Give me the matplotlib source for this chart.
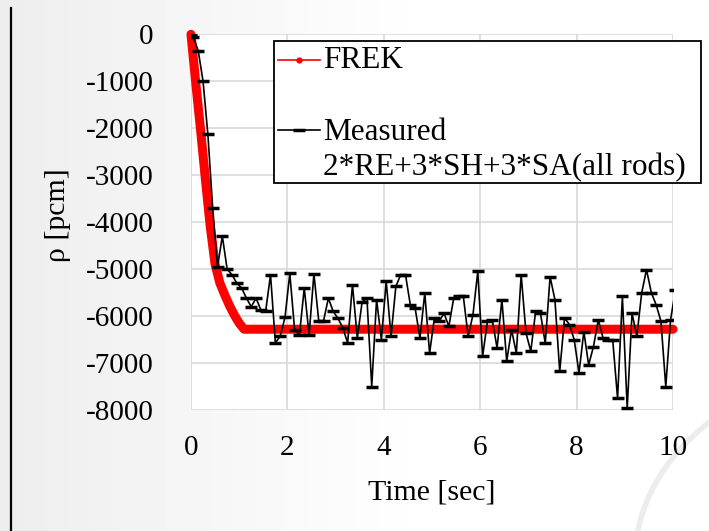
import numpy as np
import matplotlib
matplotlib.use("Agg")
import matplotlib.pyplot as plt
from matplotlib.lines import Line2D
from matplotlib.patches import Rectangle, Circle

plt.rcParams['font.family'] = ['Liberation Serif', 'DejaVu Serif']
plt.rcParams['axes.unicode_minus'] = False

# ---------------- data ----------------
frek_t = [0.0, 0.1, 0.2, 0.3, 0.4, 0.5, 0.6, 0.7, 0.8, 0.9, 1.0, 1.1, 10.0]
frek_rho = [0, -1050, -2050, -3100, -4100, -4900, -5300, -5550, -5780, -5980,
            -6150, -6280, -6280]

meas_t = [0.0] + [round(0.05 + 0.1 * i, 2) for i in range(101)]
meas_rho = [0,
            -65, -350, -1000, -2130, -3700, -4950, -4300, -5000, -5120, -5300,
            -5400, -5620, -5800, -5620, -5870, -5890, -5120, -6570, -6430, -6030,
            -5090, -6300, -6400, -5400, -6400, -5100, -6100, -6100, -5620, -5900,
            -6050, -6250, -6570, -5330, -6470, -5700, -5620, -7500, -5650, -6500,
            -5260, -6430, -5370, -5120, -5120, -5760, -5830, -6470, -5510, -6790,
            -6040, -6110, -5940, -6220, -5620, -5580, -5580, -6430, -5970, -5050,
            -6860, -6110, -6080, -6680, -5650, -6960, -6290, -6790, -5120, -6360,
            -6750, -5900, -5940, -6580, -5160, -5650, -7180, -6040, -6180, -6500,
            -7210, -6330, -7040, -6650, -6080, -6470, -6500, -6520, -7750, -5580,
            -7960, -5940, -6430, -5510, -5010, -5500, -5760, -6110, -7500, -6080,
            -5450]

x_ticks = [0, 2, 4, 6, 8, 10]
y_ticks = [0, -1000, -2000, -3000, -4000, -5000, -6000, -7000, -8000]
x_label = "Time [sec]"
y_label = "ρ [pcm]"
label_frek = "FREK"
label_meas_1 = "Measured"
label_meas_2 = "2*RE+3*SH+3*SA(all rods)"

# ---------------- figure ----------------
W, H = 709, 531
fig = plt.figure(figsize=(W / 100, H / 100), dpi=100)
fig.patch.set_facecolor('white')

def fx(px):
    return px / W

def fy(py):
    return 1 - py / H

# background: light grey gradient on the left, whiter to the right
bg = fig.add_axes([0, 0, 1, 1], zorder=-10)
xs = np.linspace(0, 1, W)
grad = np.clip(0.93 + 0.07 * xs / 0.6, 0, 1)
img = np.tile(grad, (H, 1))
bg.imshow(img, cmap='gray', vmin=0, vmax=1, aspect='auto',
          extent=[0, 1, 0, 1], interpolation='bilinear')
bg.add_patch(Circle((fx(900), fy(560)), 265 / W, transform=bg.transAxes,
                    facecolor='white', edgecolor='#ececec', lw=4))
bg.set_xlim(0, 1)
bg.set_ylim(0, 1)
bg.axis('off')

# left black vertical rule
fig.add_artist(Line2D([fx(10.5), fx(10.5)], [fy(8), fy(531)],
                      transform=fig.transFigure, color='black', lw=1.6))

ax = fig.add_axes([fx(191), fy(410), (673 - 191) / W, (410 - 34.3) / H])
ax.set_facecolor('white')

ax.plot(meas_t, meas_rho, color='black', lw=1.2, marker='_', ms=8,
        mew=2.5, zorder=3)
ax.plot(frek_t, frek_rho, color='#ff0000', lw=6.5, solid_joinstyle='round',
        solid_capstyle='round', zorder=2, clip_on=False)

ax.set_xlim(0, 10)
ax.set_ylim(-8000, 0)
ax.set_xticks(x_ticks)
ax.set_xticklabels([str(v) for v in x_ticks])
ax.set_yticks(y_ticks)
ax.set_yticklabels([str(v) for v in y_ticks])
ax.grid(True, color='#d9d9d9', lw=1.2)
ax.set_axisbelow(True)
for s in ax.spines.values():
    s.set_visible(False)
ax.tick_params(axis='both', length=0, labelsize=21, colors='black')
ax.tick_params(axis='y', pad=27)
ax.tick_params(axis='x', pad=18)

ax.set_xlabel(x_label, fontsize=21.5)
ax.xaxis.set_label_coords(0.5, -0.185)
ax.set_ylabel(y_label, fontsize=21.5)
ax.yaxis.set_label_coords(-0.25, 0.52)

# ---------------- legend (drawn by hand to match layout) ----------------
fig.add_artist(Rectangle((fx(273.5), fy(183)), (701 - 273.5) / W, (183 - 40.5) / H,
                         transform=fig.transFigure, facecolor='white',
                         edgecolor='black', lw=1.3, zorder=10))
fig.add_artist(Line2D([fx(278), fx(320)], [fy(59.5), fy(59.5)],
                      transform=fig.transFigure, color='#ff0000', lw=1.2,
                      zorder=11))
fig.add_artist(Line2D([fx(299)], [fy(59.5)], transform=fig.transFigure,
                      color='#ff0000', marker='o', ms=3.5, lw=0, zorder=11))
fig.add_artist(Line2D([fx(278), fx(320)], [fy(129.5), fy(129.5)],
                      transform=fig.transFigure, color='black', lw=1.2,
                      zorder=11))
fig.add_artist(Line2D([fx(299)], [fy(129.5)], transform=fig.transFigure,
                      color='black', marker='_', ms=8, mew=2.5, lw=0, zorder=11))
fig.text(fx(323), fy(68.5), label_frek, fontsize=22.5, ha='left', va='baseline',
         zorder=12)
fig.text(fx(323), fy(140), label_meas_1, fontsize=22.5, ha='left', va='baseline',
         zorder=12)
fig.text(fx(323), fy(175.5), label_meas_2, fontsize=22.5, ha='left', va='baseline',
         zorder=12)

fig.savefig("out.png", dpi=100)
